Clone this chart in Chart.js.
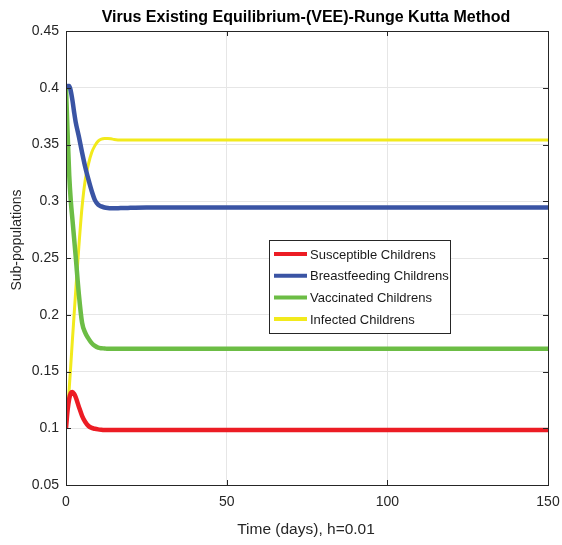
<!DOCTYPE html>
<html>
<head>
<meta charset="utf-8">
<script src="https://cdn.jsdelivr.net/npm/chart.js@4/dist/chart.umd.min.js"></script>
<style>
html,body{margin:0;padding:0;background:#fff;}
#wrap{width:562px;height:545px;}
</style>
</head>
<body>
<div id="wrap"><canvas id="c" width="562" height="545"></canvas></div>
<script>
const chartTitle = "Virus Existing Equilibrium-(VEE)-Runge Kutta Method";
const xTitle = "Time (days), h=0.01";
const yTitle = "Sub-populations";
const seriesNames = ["Susceptible Childrens","Breastfeeding Childrens","Vaccinated Childrens","Infected Childrens"];
const seriesColors = ["#ec1c24","#3a54a4","#6cbd45","#f2ea1c"];
const time = [0,0.5,1,1.5,2,2.5,3,4,5,6,7,8,9,10,11,12,13,14,15,17,20,25,30,50,75,100,125,150];
const susceptible = [0.1,0.116,0.126,0.131,0.132,0.1305,0.1275,0.119,0.111,0.1055,0.102,0.1003,0.0995,0.099,0.0987,0.0985,0.0984,0.0984,0.0984,0.0985,0.0985,0.0985,0.0985,0.0985,0.0985,0.0985,0.0985,0.0985];
const breastfeeding = [0.4,0.4015,0.4015,0.397,0.389,0.379,0.370,0.357,0.343,0.330,0.319,0.309,0.301,0.297,0.2955,0.2945,0.294,0.2938,0.2938,0.294,0.2942,0.2945,0.2945,0.2945,0.2945,0.2945,0.2945,0.2945];
const vaccinated = [0.4,0.36,0.323,0.30,0.284,0.268,0.252,0.218,0.193,0.184,0.179,0.175,0.1725,0.171,0.1705,0.1703,0.170,0.170,0.170,0.170,0.170,0.170,0.170,0.170,0.170,0.170,0.170,0.170];
const infected = [0.1,0.117,0.135,0.156,0.178,0.199,0.22,0.26,0.295,0.319,0.333,0.343,0.349,0.353,0.3548,0.3552,0.3552,0.355,0.3545,0.354,0.354,0.354,0.354,0.354,0.354,0.354,0.354,0.354];
const xTicks = [0,50,100,150];
const yTicks = [0.05,0.1,0.15,0.2,0.25,0.3,0.35,0.4,0.45];

const seriesValues = [susceptible, breastfeeding, vaccinated, infected];
const widths = [4.5,4.5,4.5,3];
const datasets = seriesValues.map((vals,i)=>({
  label: seriesNames[i],
  data: time.map((t,j)=>({x:t,y:vals[j]})),
  borderColor: seriesColors[i],
  backgroundColor: seriesColors[i],
  borderWidth: widths[i],
  pointRadius: 0,
  cubicInterpolationMode: 'monotone',
  fill: false,
  order: i
}));

const FONT = "'Liberation Sans', Arial, sans-serif";

const decor = {
  id: 'decor',
  afterDraw(chart){
    const ctx = chart.ctx;
    const a = chart.chartArea;
    const xs = chart.scales.x, ys = chart.scales.y;
    ctx.save();
    ctx.strokeStyle = '#262626';
    ctx.lineWidth = 1;
    ctx.strokeRect(Math.round(a.left)+0.5, Math.round(a.top)+0.5, Math.round(a.right-a.left), Math.round(a.bottom-a.top));
    ctx.beginPath();
    xTicks.forEach(v=>{
      const px = Math.round(xs.getPixelForValue(v))+0.5;
      ctx.moveTo(px, a.bottom); ctx.lineTo(px, a.bottom-5);
      ctx.moveTo(px, a.top); ctx.lineTo(px, a.top+5);
    });
    yTicks.forEach(v=>{
      const py = Math.round(ys.getPixelForValue(v))+0.5;
      ctx.moveTo(a.left, py); ctx.lineTo(a.left+5, py);
      ctx.moveTo(a.right, py); ctx.lineTo(a.right-5, py);
    });
    ctx.stroke();
    ctx.fillStyle = '#000';
    ctx.font = "bold 16px " + FONT;
    ctx.textAlign = 'center';
    ctx.textBaseline = 'middle';
    ctx.fillText(chartTitle, 306, 18);
    ctx.fillStyle = '#262626';
    ctx.font = "15.5px " + FONT;
    ctx.fillText(xTitle, 306, 530);
    ctx.save();
    ctx.translate(17, 240);
    ctx.rotate(-Math.PI/2);
    ctx.font = "14px " + FONT;
    ctx.fillText(yTitle, 0, 0);
    ctx.restore();
    const lx = 269, ly = 240, lw = 181, lh = 93;
    ctx.fillStyle = '#fff';
    ctx.fillRect(lx, ly, lw, lh);
    ctx.strokeStyle = '#262626';
    ctx.lineWidth = 1;
    ctx.strokeRect(lx+0.5, ly+0.5, lw, lh);
    ctx.font = "13px " + FONT;
    ctx.textAlign = 'left';
    chart.data.datasets.forEach((d,i)=>{
      const y = 254 + i*21.7;
      ctx.strokeStyle = d.borderColor;
      ctx.lineWidth = 4;
      ctx.beginPath(); ctx.moveTo(274, y); ctx.lineTo(307, y); ctx.stroke();
      ctx.fillStyle = '#1a1a1a';
      ctx.fillText(d.label, 310, y+1);
    });
    ctx.restore();
  }
};

new Chart(document.getElementById('c'), {
  type: 'line',
  data: { datasets },
  options: {
    responsive: false,
    animation: false,
    layout: { padding: { top: 31, right: 14, left: 0, bottom: 0 } },
    plugins: { legend: { display: false }, title: { display: false }, tooltip: { enabled: false } },
    scales: {
      x: {
        type: 'linear', min: 0, max: 150,
        afterBuildTicks(s){ s.ticks = xTicks.map(v=>({value:v})); },
        afterFit(s){ s.height = 60; s.paddingRight = 0; s.paddingLeft = 0; },
        grid: { color: '#e6e6e6', drawTicks: false },
        border: { display: false },
        ticks: { color: '#262626', font: { family: FONT, size: 14 }, padding: 9, maxRotation: 0 }
      },
      y: {
        type: 'linear', min: 0.05, max: 0.45,
        afterBuildTicks(s){ s.ticks = yTicks.map(v=>({value:v})); },
        afterFit(s){ s.width = 66; s.paddingTop = 0; s.paddingBottom = 0; },
        grid: { color: '#e6e6e6', drawTicks: false },
        border: { display: false },
        ticks: { color: '#262626', font: { family: FONT, size: 14 }, padding: 7, callback: v => String(Number(v.toFixed(2))) }
      }
    }
  },
  plugins: [decor]
});
</script>
</body>
</html>
